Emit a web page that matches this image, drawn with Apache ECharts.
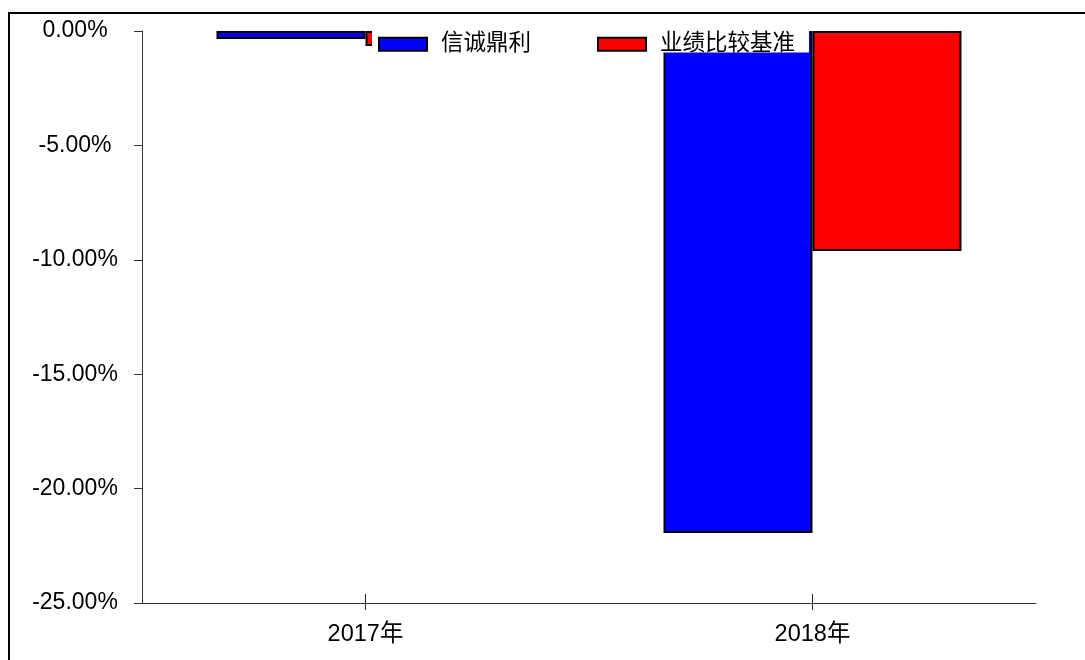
<!DOCTYPE html>
<html>
<head>
<meta charset="utf-8">
<script src="https://cdn.jsdelivr.net/npm/echarts@6/dist/echarts.min.js"></script>
<style>html,body{margin:0;padding:0;background:#fff;}#c{width:1085px;height:660px;}</style>
</head>
<body>
<div id="c"></div>
<script>
var categories = ['2017年', '2018年'];
var seriesNames = ['信诚鼎利', '业绩比较基准'];
var fundValues = [-0.35, -21.94];
var benchValues = [-0.66, -9.62];
var yTicks = { min: -25, max: 0, interval: 5 };

var FONT = '"Liberation Sans", "Noto Sans CJK SC", sans-serif';
var chart = echarts.init(document.getElementById('c'), null, { renderer: 'canvas' });
chart.setOption({
  animation: false,
  backgroundColor: '#fff',
  textStyle: { fontFamily: FONT },
  graphic: [{
    type: 'rect', z: 100, silent: true,
    shape: { x: 9, y: 13, width: 1100, height: 700 },
    style: { fill: 'none', stroke: '#000', lineWidth: 2 }
  }],
  grid: { left: 142, right: 49, top: 31, bottom: 57, containLabel: false },
  legend: {
    data: seriesNames,
    left: 372, top: 30,
    z: 10,
    backgroundColor: '#fff',
    padding: [3, 14, -3, 6],
    itemGap: 66,
    itemWidth: 48, itemHeight: 13,
    icon: 'rect',
    itemStyle: { borderColor: '#000', borderWidth: 2 },
    textStyle: { fontSize: 22.5, lineHeight: 18, color: '#000', fontFamily: FONT, padding: [0, 0, 0, 9] }
  },
  xAxis: [{
    type: 'category', data: categories,
    axisLine: { onZero: false, lineStyle: { color: '#333', width: 1 } },
    axisTick: { show: true, alignWithLabel: true, length: 7, lineStyle: { color: '#222', width: 1 } },
    axisLabel: { fontSize: 23.5, color: '#000', margin: 20, fontFamily: FONT }
  }, {
    type: 'category', data: categories, position: 'bottom', offset: 0,
    axisLine: { show: false, onZero: false },
    axisTick: { show: true, inside: true, alignWithLabel: true, length: 9, lineStyle: { color: '#222', width: 1 } },
    axisLabel: { show: false }
  }],
  yAxis: {
    type: 'value', min: yTicks.min, max: yTicks.max, interval: yTicks.interval,
    axisLine: { show: true, lineStyle: { color: '#333', width: 1 } },
    axisTick: { show: true, length: 8, lineStyle: { color: '#333' } },
    splitLine: { show: false },
    axisLabel: {
      fontSize: 23, color: '#000', align: 'center', margin: 67, fontFamily: FONT,
      formatter: function (v) { return v.toFixed(2) + '%'; }
    }
  },
  series: [{
    name: seriesNames[0], type: 'bar', data: fundValues,
    barWidth: 149, barGap: '0%',
    itemStyle: { color: '#0000ff', borderColor: '#000', borderWidth: 2 }
  }, {
    name: seriesNames[1], type: 'bar', data: benchValues,
    barWidth: 149, barGap: '0%',
    itemStyle: { color: '#ff0000', borderColor: '#000', borderWidth: 2 }
  }]
});
</script>
</body>
</html>
